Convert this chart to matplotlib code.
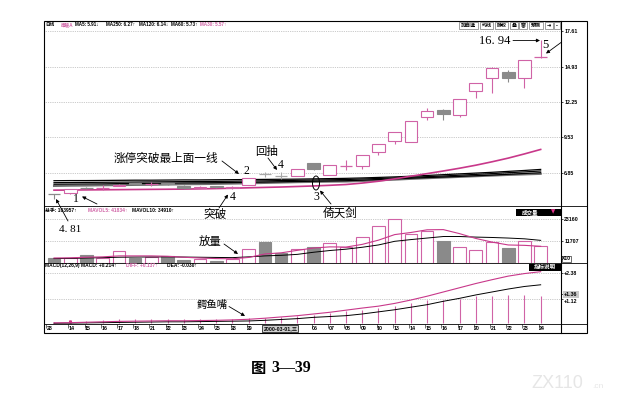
import matplotlib
matplotlib.use('Agg')
import matplotlib.pyplot as plt
from matplotlib.patches import Rectangle, Ellipse

# ---------------- data ----------------
dates = ['28', '14', '15', '16', '17', '18', '21', '22', '23', '24', '25', '28', '29',
         '2000-03-01,三', '02', '03', '06', '07', '08', '09', '10', '13', '14', '15',
         '16', '17', '20', '21', '22', '23', '24']
hidden_dates = [14, 15]   # covered by the highlighted date box

opens  = [5.24, 5.28, 5.73, 5.70, 5.85, 6.07, 5.98, 6.03, 5.84, 5.71, 5.83, 5.68, 5.91,
          6.74, 6.63, 6.60, 7.57, 6.67, 7.36, 7.38, 8.40, 9.26, 9.17, 11.07, 11.63,
          11.24, 13.07, 14.09, 14.54, 14.09, 15.66]
highs  = [5.26, 5.63, 5.76, 5.88, 5.96, 6.10, 6.15, 6.08, 5.88, 5.82, 5.86, 5.82, 6.42,
          6.93, 6.93, 7.11, 7.60, 7.46, 7.82, 8.22, 9.03, 9.95, 10.81, 11.75, 11.68,
          12.46, 13.68, 14.92, 14.67, 15.45, 16.94]
lows   = [4.81, 5.26, 5.64, 5.50, 5.82, 5.98, 5.86, 5.94, 5.62, 5.66, 5.72, 5.64, 5.88,
          6.55, 6.35, 6.58, 7.08, 6.64, 7.06, 7.13, 8.20, 9.01, 9.15, 10.86, 10.86,
          11.11, 12.56, 12.90, 13.78, 13.32, 15.58]
closes = [5.22, 5.61, 5.68, 5.73, 5.93, 6.01, 6.01, 5.97, 5.67, 5.78, 5.75, 5.79, 6.42,
          6.72, 6.61, 7.11, 7.11, 7.44, 7.40, 8.20, 9.01, 9.93, 10.81, 11.57, 11.34,
          12.44, 13.66, 14.85, 14.09, 15.43, 15.70]

ma250 = [6.24, 6.25, 6.25, 6.26, 6.27, 6.28, 6.28, 6.29, 6.30, 6.30, 6.31, 6.32, 6.33,
         6.34, 6.35, 6.36, 6.38, 6.40, 6.42, 6.45, 6.49, 6.53, 6.58, 6.64, 6.70, 6.76,
         6.82, 6.88, 6.95, 7.02, 7.10]
ma120 = [6.09, 6.10, 6.11, 6.12, 6.13, 6.14, 6.15, 6.16, 6.17, 6.18, 6.19, 6.20, 6.22,
         6.23, 6.25, 6.27, 6.29, 6.31, 6.33, 6.37, 6.41, 6.45, 6.50, 6.55, 6.60, 6.66,
         6.72, 6.78, 6.85, 6.91, 6.98]
ma60  = [5.97, 5.98, 5.99, 6.00, 6.02, 6.03, 6.04, 6.05, 6.07, 6.08, 6.09, 6.10, 6.12,
         6.14, 6.16, 6.18, 6.20, 6.22, 6.24, 6.28, 6.33, 6.38, 6.43, 6.48, 6.52, 6.57,
         6.62, 6.67, 6.73, 6.79, 6.85]
ma5   = [5.84, 5.86, 5.87, 5.89, 5.90, 5.92, 5.93, 5.95, 5.97, 5.98, 6.00, 6.02, 6.04,
         6.07, 6.10, 6.13, 6.15, 6.17, 6.18, 6.22, 6.27, 6.32, 6.38, 6.43, 6.48, 6.53,
         6.58, 6.63, 6.68, 6.72, 6.76]
ma30  = [5.52, 5.53, 5.54, 5.55, 5.56, 5.57, 5.58, 5.59, 5.60, 5.62, 5.64, 5.67, 5.70,
         5.73, 5.76, 5.80, 5.84, 5.89, 5.95, 6.06, 6.20, 6.38, 6.58, 6.78, 6.98, 7.19,
         7.42, 7.68, 7.96, 8.28, 8.62]

volume = [2500, 2700, 4400, 2700, 6100, 2500, 2900, 3500, 1800, 2200, 1150, 2200, 7400,
          10800, 5100, 7400, 8200, 10500, 8200, 13400, 19200, 23000, 15200, 16900, 11350,
          8200, 6900, 11200, 7900, 11700, 8600]
mavol5 = [2600, 2700, 3000, 3200, 3700, 3700, 3700, 3500, 3000, 2600, 2300, 2200, 2900,
          4700, 5300, 6600, 7800, 8400, 8300, 9700, 11900, 14800, 15900, 17300, 17400,
          15300, 12800, 10900, 9400, 9200, 8700]
mavol10 = [2300, 2400, 2600, 2800, 3000, 3100, 3150, 3200, 3100, 3000, 2900, 2800, 3200,
           3700, 4000, 4500, 5600, 6500, 7200, 8200, 9400, 11300, 12200, 13000, 13800,
           13800, 13500, 13300, 13000, 12600, 11800]

diff = [0.00, 0.01, 0.03, 0.05, 0.07, 0.08, 0.09, 0.10, 0.10, 0.11, 0.12, 0.14, 0.17,
        0.22, 0.28, 0.34, 0.42, 0.50, 0.60, 0.70, 0.79, 0.92, 1.08, 1.26, 1.46, 1.66,
        1.86, 2.04, 2.21, 2.33, 2.42]
dea = [-0.02, -0.01, 0.00, 0.01, 0.02, 0.03, 0.04, 0.05, 0.05, 0.06, 0.07, 0.08, 0.09,
       0.12, 0.16, 0.20, 0.26, 0.30, 0.34, 0.42, 0.52, 0.62, 0.74, 0.86, 1.02, 1.16,
       1.32, 1.46, 1.60, 1.72, 1.80]
macd = [0.05, 0.15, 0.10, 0.15, 0.20, 0.20, 0.20, 0.20, 0.18, 0.18, 0.18, 0.20, 0.22,
        0.25, 0.28, 0.32, 0.38, 0.47, 0.54, 0.62, 0.70, 0.78, 0.94, 1.09, 1.09, 1.14,
        1.25, 1.29, 1.33, 1.33, 1.25]

price_ticks = [6.85, 9.53, 12.25, 14.93, 17.61]
vol_ticks = [11707, 23160]
macd_ticks = [1.12, 1.36, 2.38]
macd_grid = [1.12, 2.38]

# ---------------- styles ----------------
PINK = '#d063a6'
PINK_LINE = '#c8388a'
GRAY = '#8a8a8a'
LGRAY = '#a8a8a8'
CJK = ['Noto Sans CJK SC', 'DejaVu Sans']
SANS = ['Liberation Sans', 'Noto Sans CJK SC', 'DejaVu Sans']
SERIF = ['Liberation Serif', 'DejaVu Serif']
plt.rcParams['font.family'] = SANS

W, H = 634, 400
fig = plt.figure(figsize=(W / 100, H / 100), dpi=100)
fig.patch.set_facecolor('white')


def rect(x0, y0, x1, y1):
    return [x0 / W, 1 - y1 / H, (x1 - x0) / W, (y1 - y0) / H]


LEFT, RIGHT, FR = 44, 560.7, 587
XL = (-0.617, 31.235)
ax_p = fig.add_axes(rect(LEFT, 21, RIGHT, 206))
ax_v = fig.add_axes(rect(LEFT, 206, RIGHT, 263))
ax_m = fig.add_axes(rect(LEFT, 263, RIGHT, 323.5))
ax_d = fig.add_axes(rect(LEFT, 323.5, RIGHT, 333))
ax_o = fig.add_axes([0, 0, 1, 1], zorder=10)
ax_o.set_xlim(0, W)
ax_o.set_ylim(H, 0)
ax_o.axis('off')

ax_p.set_ylim(4.314, 18.40)
ax_v.set_ylim(0, 29700)
ax_m.set_ylim(-0.03, 2.83)
ax_d.set_ylim(0, 1)

for ax in (ax_p, ax_v, ax_m, ax_d):
    ax.set_xlim(*XL)
    ax.patch.set_alpha(0)
    for s in ax.spines.values():
        s.set_visible(False)
    ax.tick_params(axis='x', length=0, labelbottom=False)
    ax.yaxis.tick_right()
    ax.tick_params(axis='y', length=1.5, width=0.5, pad=1.0, labelsize=3.8)
ax_d.set_yticks([])


def set_right(ax, ticks, labels):
    ax.set_yticks(ticks)
    ax.set_yticklabels(labels)
    for t in ax.get_yticklabels():
        t.set_fontweight('bold')


set_right(ax_p, price_ticks, ['%.2f' % v for v in price_ticks])
set_right(ax_v, vol_ticks, ['%d' % v for v in vol_ticks])
set_right(ax_m, macd_ticks, ['+%.2f' % v for v in macd_ticks])
for t, v in zip(ax_m.get_yticklabels(), macd_ticks):
    if v == 1.36:
        t.set_bbox(dict(boxstyle='square,pad=0.25', fc='#c8c8c8', ec='none'))
    if v == 1.12:
        t.set_va('top')

dots = (0, (1, 1.6))
ax_p.hlines(price_ticks, XL[0], XL[1], colors='#9a9a9a', linestyles=dots, lw=0.5)
ax_v.hlines(vol_ticks, XL[0], XL[1], colors='#9a9a9a', linestyles=dots, lw=0.5)
ax_m.hlines(macd_grid, XL[0], XL[1], colors='#9a9a9a', linestyles=dots, lw=0.5)

n = len(closes)
xs = list(range(n))
w = 0.78

# ---- moving averages (price) ----
ax_p.plot(xs, ma5, color='#6e6e6e', lw=1.5, zorder=2)
ax_p.plot(xs, ma60, color='k', lw=0.9, zorder=2)
ax_p.plot(xs, ma120, color='k', lw=0.9, zorder=2)
ax_p.plot(xs, ma250, color='k', lw=0.9, zorder=2)
ax_p.plot(xs, ma30, color=PINK_LINE, lw=1.2, zorder=3)

# ---- candles ----
for i in xs:
    o, h, l, c = opens[i], highs[i], lows[i], closes[i]
    up = c >= o
    top, bot = max(o, c), min(o, c)
    col = PINK if up else GRAY
    if top - bot < 0.06:
        if not up and i > 10:
            col = LGRAY
        ax_p.vlines(i, l, h, color=col, lw=0.8, zorder=4)
        ax_p.hlines((o + c) / 2, i - w / 2, i + w / 2, color=col, lw=0.9, zorder=4)
    else:
        ax_p.vlines(i, top, h, color=col, lw=0.8, zorder=4)
        ax_p.vlines(i, l, bot, color=col, lw=0.8, zorder=4)
        ax_p.add_patch(Rectangle((i - w / 2, bot), w, top - bot,
                                 facecolor='white' if up else GRAY,
                                 edgecolor=col, lw=0.8, zorder=5))

# ---- volume ----
for i in xs:
    up = closes[i] >= opens[i]
    ax_v.add_patch(Rectangle((i - w / 2, 0), w, volume[i],
                             facecolor='white' if up else GRAY,
                             edgecolor=PINK if up else GRAY, lw=0.8, zorder=2))
ax_v.plot(xs, mavol10, color='k', lw=0.7, zorder=3)
ax_v.plot(xs, mavol5, color=PINK_LINE, lw=0.8, zorder=3)

# ---- MACD ----
ax_m.vlines(xs, 0, macd, color=PINK, lw=0.8, zorder=2)
ax_m.vlines(1, 0, macd[1], color='#d0307f', lw=2.2, zorder=3)
ax_m.plot(xs, dea, color='k', lw=0.7, zorder=3)
ax_m.plot(xs, diff, color=PINK_LINE, lw=0.8, zorder=3)

# ---- date axis ----
for i in xs:
    if i in hidden_dates:
        continue
    xi = -0.45 if i == 0 else i - 0.09
    if i == 13:
        ax_d.text(xi, 0.45, dates[i], fontsize=3.8, weight='bold', ha='left', va='center',
                  bbox=dict(boxstyle='square,pad=0.2', fc='#cfcfcf', ec='k', lw=0.5))
    else:
        ax_d.text(xi, 0.45, dates[i], fontsize=3.8, weight='bold', ha='left', va='center')
        ax_d.vlines(xi - 0.03, 0.55, 0.95, color='k', lw=0.4)

# ---------------- frame & overlay ----------------
ax_o.add_patch(Rectangle((LEFT, 21), FR - LEFT, 312, fill=False, lw=0.8, ec='k'))
ax_o.plot([RIGHT, RIGHT], [21, 333], color='k', lw=0.8)
for yy in (206, 263, 323.5):
    ax_o.plot([LEFT, FR], [yy, yy], color='k', lw=0.6)


def px(x, y, s, size, color='k', fam=CJK, weight='normal', ha='center', va='center', **kw):
    return ax_o.text(x, y, s, fontsize=size, color=color, family=fam, weight=weight,
                     ha=ha, va=va, **kw)


def arrow(tail, head):
    ax_o.annotate('', xy=head, xytext=tail,
                  arrowprops=dict(arrowstyle='-|>', color='k', lw=0.6,
                                  mutation_scale=5, shrinkA=0, shrinkB=0))


# header lines
header = [('日线', 45, 'k'), ('南玻A', 61, PINK), ('MA5: 5.91↓', 75, 'k'),
          ('MA250: 6.27↑', 106, 'k'), ('MA120: 6.14↓', 139, 'k'),
          ('MA60: 5.73↑', 171, 'k'), ('MA30: 5.57↑', 200, PINK)]
for s, x, c in header:
    px(x, 24.5, s, 3.3, color=c, fam=SANS, weight='bold', ha='left')
vhead = [('总手: 103957↑', 45, 'k'), ('MAVOL5: 41834↑', 88, PINK),
         ('MAVOL10: 34910↑', 132, 'k')]
for s, x, c in vhead:
    px(x, 210.7, s, 3.5, color=c, fam=SANS, weight='bold', ha='left')
mhead = [('MACD(12,26,9) MACD: +0.214↑', 45, 'k'), ('DIFF: +0.137↑', 126, PINK),
         ('DEA: -0.030↑', 167, 'k')]
for s, x, c in mhead:
    px(x, 265.8, s, 3.5, color=c, fam=SANS, weight='bold', ha='left')

# toolbar buttons
buttons = [('加自选', 459, 478), ('均线', 480, 493), ('除权', 495, 508), ('叠', 510, 518),
           ('窗', 519, 527), ('预测', 529, 543), ('⇥', 545, 553), ('-', 554, 560)]
for s, x0, x1 in buttons:
    ax_o.add_patch(Rectangle((x0, 22), x1 - x0, 7, fill=False, ec='#555555', lw=0.4))
    px((x0 + x1) / 2, 25.6, s, 3.6, fam=CJK, weight='bold')

# black label boxes
ax_o.add_patch(Rectangle((516, 208.5), RIGHT - 516, 7, fc='k', ec='k', lw=0))
px(530, 212, '成交量', 4.0, color='white', weight='bold')
px(553, 212.2, '▼', 4.0, color='#e0308a', fam=['DejaVu Sans'])
ax_o.add_patch(Rectangle((528.5, 263.6), RIGHT - 528.5, 7, fc='k', ec='k', lw=0))
px(544.5, 267.1, '指标说明', 4.0, color='white', weight='bold')
ax_o.add_patch(Rectangle((561.5, 255.5), 9, 6.5, fill=False, ec='k', lw=0.4))
px(566, 258.8, 'X10', 3.6, fam=SANS, weight='bold')

# annotations
px(166, 158, '涨停突破最上面一线', 8.4)
arrow((222, 161), (239, 174))
px(246, 170.5, '2', 8.5, fam=SERIF)
px(267, 152, '回抽', 8.2)
arrow((268, 158), (277, 170))
px(281, 164.5, '4', 8.5, fam=SERIF)
px(76, 199.5, '1', 8.5, fam=SERIF)
arrow((97, 204), (82, 196.5))
px(70, 229, '4. 81', 8.0, fam=SERIF)
arrow((68, 221), (56, 199))
px(233, 197, '4', 8.5, fam=SERIF)
arrow((219, 208), (228, 194.5))
px(215, 214, '突破', 8.4)
ax_o.add_patch(Ellipse((316, 183), 7, 14, fill=False, ec='k', lw=0.7))
px(316.5, 197.5, '3', 8.5, fam=SERIF)
arrow((331, 204), (320, 190.5))
px(340, 213, '倚天剑', 8.4)
px(210, 242, '放量', 8.2)
arrow((224, 244), (238, 254))
px(212, 304.5, '鳄鱼嘴', 7.5)
arrow((229, 306.5), (245, 316))
px(495, 41, '16. 94', 9.0, fam=SERIF)
arrow((513, 40.5), (540, 40.5))
px(545, 45, '5', 9.0, fam=SERIF)
arrow((561, 42.5), (546, 53.5))

# caption & watermark
px(259, 368, '图', 11, weight='bold')
px(291, 368, '3—39', 11.5, fam=SERIF, weight='bold')
px(557, 384, 'ZX110', 13, color='#e6e6e6', fam=SANS, weight='light')
px(598, 387, '.cn', 6, color='#e6e6e6', fam=SANS)

fig.savefig('out.png', dpi=100)
